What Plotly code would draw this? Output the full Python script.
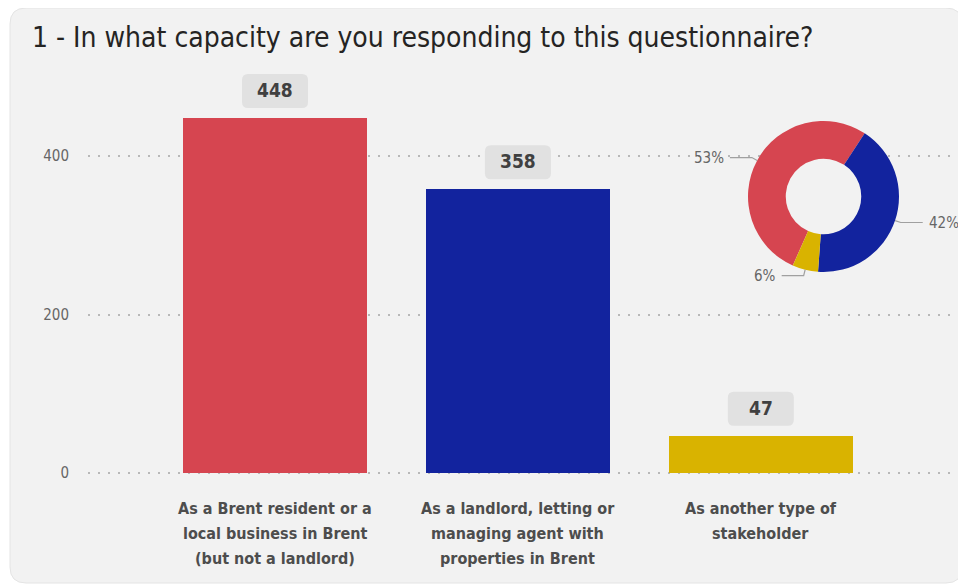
import math
import plotly.graph_objects as go

# ---------------- data ----------------
categories = [
    "As a Brent resident or a<br>local business in Brent<br>(but not a landlord)",
    "As a landlord, letting or<br>managing agent with<br>properties in Brent",
    "As another type of<br>stakeholder",
]
values = [448, 358, 47]
colors = ["#D64550", "#12239E", "#D9B300"]
y_ticks = [0, 200, 400]
title_text = "1 - In what capacity are you responding to this questionnaire?"

# ---------------- layout constants (pixels, in window coords) ----------------
OFF = 8                      # page body margin
WIN_W, WIN_H = 966, 587
FW, FH = WIN_W - OFF, WIN_H - OFF
ZERO_PX = 473                # pixel row of value 0
L, R, T, B = 88, 960, 60, 476
W, H = R - L, B - T
PX_PER_UNIT = 0.7925
YMIN = -(B - ZERO_PX) / PX_PER_UNIT
YMAX = (ZERO_PX - T) / PX_PER_UNIT

def px2x(p):
    return (p - L) / W

def py2y(p):
    return (B - p) / H

FONT = "DejaVu Sans Condensed"

fig = go.Figure()

fig.add_trace(go.Bar(
    x=list(range(len(categories))),
    y=values,
    marker=dict(color=colors, line=dict(width=0)),
    width=0.757,
    hoverinfo="skip",
    showlegend=False,
))

# donut
cx, cy, rad = 823.5, 196.5, 75.5
total = sum(values)
start_deg = 204
fig.add_trace(go.Pie(
    values=values,
    labels=["c0", "c1", "c2"],
    marker=dict(colors=colors, line=dict(width=0)),
    hole=0.5,
    sort=False,
    direction="clockwise",
    rotation=start_deg - 360,
    textinfo="none",
    hoverinfo="skip",
    showlegend=False,
    domain=dict(x=[px2x(cx - rad), px2x(cx + rad)],
                y=[py2y(cy + rad), py2y(cy - rad)]),
))

shapes = []
annotations = []

def rounded_path(x0, y0, x1, y1, r):
    def P(x, y):
        return f"{px2x(x)},{py2y(y)}"
    return (f"M {P(x0 + r, y0)} L {P(x1 - r, y0)} Q {P(x1, y0)} {P(x1, y0 + r)} "
            f"L {P(x1, y1 - r)} Q {P(x1, y1)} {P(x1 - r, y1)} "
            f"L {P(x0 + r, y1)} Q {P(x0, y1)} {P(x0, y1 - r)} "
            f"L {P(x0, y0 + r)} Q {P(x0, y0)} {P(x0 + r, y0)} Z")

shapes.append(dict(type="path", xref="paper", yref="paper", layer="below",
                   path=rounded_path(10, 8, 962, 583, 16),
                   fillcolor="#F2F2F2", line=dict(color="#E4E4E4", width=1)))

# value boxes + labels
bw, bh, gap, br = 66, 34, 10, 6
for i, v in enumerate(values):
    x0, x1 = -bw / 2, bw / 2
    y0, y1 = gap, gap + bh
    path = (f"M {x0 + br},{y0} L {x1 - br},{y0} Q {x1},{y0} {x1},{y0 + br} "
            f"L {x1},{y1 - br} Q {x1},{y1} {x1 - br},{y1} "
            f"L {x0 + br},{y1} Q {x0},{y1} {x0},{y1 - br} "
            f"L {x0},{y0 + br} Q {x0},{y0} {x0 + br},{y0} Z")
    shapes.append(dict(type="path", xref="x", yref="y",
                       xsizemode="pixel", ysizemode="pixel",
                       xanchor=i, yanchor=v, path=path,
                       fillcolor="#E1E1E1", line=dict(width=0), layer="above"))
    annotations.append(dict(x=i, y=v, xref="x", yref="y", text=f"<b>{v}</b>",
                            showarrow=False, yshift=gap + bh / 2 + 1,
                            yanchor="middle",
                            font=dict(family=FONT, size=19, color="#404040")))

# category labels (one annotation per line for 25px line spacing)
for i, c in enumerate(categories):
    for k, line in enumerate(c.split("<br>")):
        annotations.append(dict(x=i, xref="x", y=0, yref="y",
                                text=f"<b>{line}</b>", showarrow=False,
                                yanchor="middle", yshift=-(35 + 25 * k),
                                font=dict(family=FONT, size=16, color="#4D4D4D")))

# donut leader lines + percentage labels
acc = 0.0
for i, v in enumerate(values):
    mid = math.radians(start_deg + (acc + v / 2) / total * 360)
    acc += v
    s, c = math.sin(mid), -math.cos(mid)
    ex, ey = cx + rad * s, cy + rad * c
    kx, ky = cx + (rad + 6) * s, cy + (rad + 6) * c
    side = 1 if s > 0 else -1
    hx = kx + side * 22
    shapes.append(dict(type="path", xref="paper", yref="paper", layer="above",
                       path=f"M {px2x(ex)},{py2y(ey)} L {px2x(kx)},{py2y(ky)} L {px2x(hx)},{py2y(ky)}",
                       line=dict(color="#A0A0A0", width=1.2)))
    pct = round(v / total * 100)
    annotations.append(dict(x=px2x(hx + side * 4), y=py2y(ky), xref="paper", yref="paper",
                            text=f"{pct}%", showarrow=False,
                            xanchor="left" if side > 0 else "right", yanchor="middle",
                            font=dict(family=FONT, size=15, color="#666666")))

# title
annotations.append(dict(x=px2x(30), y=py2y(38), xref="paper", yref="paper",
                        text=title_text, showarrow=False, xanchor="left", yanchor="middle",
                        font=dict(family=FONT, size=28, color="#252423")))

fig.update_layout(
    width=FW, height=FH,
    margin=dict(l=L - OFF, r=WIN_W - R, t=T - OFF, b=WIN_H - B, pad=0),
    paper_bgcolor="white",
    plot_bgcolor="rgba(0,0,0,0)",
    shapes=shapes,
    annotations=annotations,
    bargap=0,
    xaxis=dict(range=[-0.77, 2.82], showticklabels=False, showgrid=False,
               zeroline=False, showline=False, ticks=""),
    yaxis=dict(range=[YMIN, YMAX], tickvals=y_ticks, showgrid=True,
               gridcolor="#B8B8B8", griddash="2px,8px", gridwidth=1.5,
               zeroline=False, showline=False, ticks="",
               ticklabelstandoff=18,
               tickfont=dict(family=FONT, size=15, color="#666666")),
    font=dict(family=FONT),
)

fig.write_html("out.html")
